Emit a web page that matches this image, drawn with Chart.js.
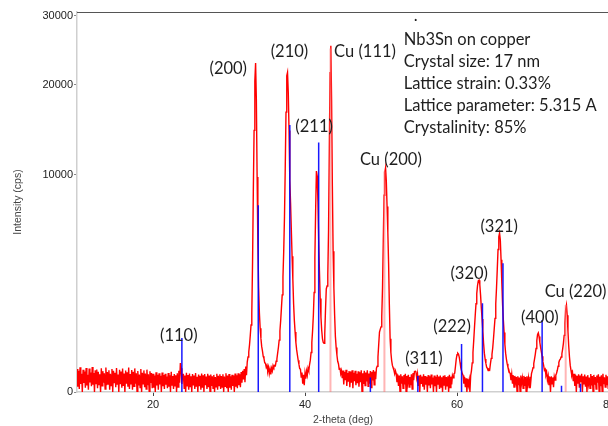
<!DOCTYPE html>
<html lang="en">
<head>
  <meta charset="UTF-8" />
  <title>Nb3Sn on copper - XRD</title>
  <script src="https://cdn.jsdelivr.net/npm/chart.js"></script>
  <style>
    html, body { margin: 0; padding: 0; background: #fff; overflow: hidden; }
    .grafico { width: 640px; height: 426px; }
    canvas { display: block; }
  </style>
</head>

<body>
  <div class="grafico">
    <canvas id="xrd" width="640" height="426"></canvas>
  </div>

  <script>
    // scan: 2-theta from 10 to 80 deg, one reading every 0.1 deg (cps)
    const thetaStart = 10;
    const thetaStep = 0.1;
    const intensity = [
      112, 6, 96, 2, 130, 14, 71, 0, 104, 17,
      88, 4, 121, 9, 63, 1, 116, 19, 81, 7,
      133, 11, 77, 0, 99, 15, 108, 3, 86, 12,
      66, 0, 119, 8, 92, 18, 74, 2, 126, 10,
      84, 13, 101, 1, 70, 9, 113, 0, 95, 16,
      79, 5, 123, 11, 65, 0, 104, 13, 89, 4,
      116, 8, 72, 0, 97, 15, 83, 6, 127, 2,
      69, 12, 102, 1, 86, 7, 118, 15, 74, 0,
      93, 9, 64, 4, 111, 0, 79, 14, 99, 5,
      72, 2, 106, 10, 67, 0, 91, 17, 77, 3,
      70, 4, 58, 0, 83, 9, 62, 1, 75, 12,
      55, 0, 80, 7, 61, 2, 71, 11, 50, 3,
      77, 6, 60, 0, 86, 10, 54, 2, 68, 8,
      59, 0, 74, 5, 96, 18, 178, 120, 14, 66,
      66, 3, 57, 0, 79, 8, 61, 1, 72, 5,
      52, 0, 69, 9, 58, 2, 76, 6, 49, 0,
      64, 7, 55, 1, 73, 4, 60, 0, 68, 10,
      50, 2, 71, 5, 57, 0, 65, 8, 53, 3,
      62, 0, 48, 6, 70, 1, 56, 9, 66, 2,
      54, 5, 67, 0, 51, 7, 74, 3, 58, 0,
      69, 4, 52, 1, 63, 8, 57, 0, 72, 6,
      60, 3, 75, 10, 66, 5, 84, 18, 96, 34,
      112, 20, 138, 60, 190, 260, 340, 470, 680, 950,
      1300, 3600, 8500, 14500, 20500, 22950, 18100, 9800, 4600, 2300,
      1320, 860, 610, 440, 360, 270, 240, 180, 175, 130,
      150, 95, 130, 70, 110, 65, 120, 95, 150, 130,
      150, 145, 200, 230, 320, 420, 570, 790, 1080, 1500,
      2000, 2800, 4200, 6500, 10600, 16600, 21200, 21650, 19000, 14500,
      9500, 7600, 5600, 3900, 2700, 1650, 1080, 760, 520, 380,
      290, 215, 165, 115, 110, 48, 80, 15, 62, 10,
      75, 38, 92, 60, 120, 95, 160, 215, 330, 520,
      800, 1250, 2100, 3800, 7000, 10350, 9900, 7700, 4900, 3100,
      1850, 1180, 800, 600, 520, 505, 720, 1450, 2250, 2380,
      2900, 5600, 12600, 21600, 25400, 18000, 9000, 4200, 2300, 1250,
      650, 420, 290, 200, 170, 110, 125, 70, 95, 40,
      98, 12, 85, 30, 104, 8, 76, 22, 92, 5,
      88, 18, 101, 3, 79, 25, 95, 10, 70, 16,
      90, 6, 83, 20, 99, 0, 74, 14, 96, 9,
      81, 24, 100, 7, 72, 15, 94, 4, 86, 28,
      102, 11, 90, 35, 120, 140, 260, 480, 760, 830,
      900, 1200, 2300, 4800, 8200, 10200, 10650, 9400, 7300, 5400,
      3500, 1600, 600, 330, 210, 150, 125, 100, 70, 95,
      72, 20, 64, 8, 58, 0, 66, 15, 52, 3,
      60, 12, 70, 0, 55, 18, 63, 5, 48, 10,
      66, 2, 75, 30, 88, 92, 84, 40, 70, 8,
      58, 0, 62, 14, 50, 6, 67, 1, 54, 11,
      47, 0, 60, 9, 52, 3, 65, 12, 44, 0,
      58, 7, 49, 0, 62, 13, 51, 2, 57, 5,
      46, 0, 55, 10, 60, 1, 48, 8, 53, 0,
      62, 4, 50, 12, 58, 42, 70, 75, 140, 230,
      295, 320, 305, 255, 185, 125, 95, 72, 58, 15,
      48, 5, 40, 0, 35, 10, 30, 0, 58, 95,
      180, 330, 560, 880, 1250, 1650, 2050, 2400, 2620, 2650,
      2450, 2000, 1500, 1130, 790, 500, 320, 230, 175, 130,
      118, 98, 110, 104, 170, 240, 300, 410, 600, 850,
      1150, 1650, 2300, 3200, 4300, 5100, 5350, 4900, 3700, 2500,
      1600, 1100, 750, 480, 320, 230, 170, 130, 110, 80,
      74, 30, 68, 15, 60, 5, 55, 20, 48, 0,
      52, 10, 44, 0, 58, 16, 40, 3, 55, 8,
      47, 0, 52, 12, 40, 4, 50, 20, 72, 95,
      125, 170, 230, 300, 400, 560, 700, 740, 650, 520,
      420, 340, 270, 200, 150, 100, 110, 60, 80, 30,
      55, 10, 48, 0, 52, 14, 45, 5, 50, 30,
      60, 75, 100, 140, 185, 215, 230, 260, 310, 390,
      500, 680, 1000, 1450, 1600, 1250, 780, 450, 260, 150,
      100, 60, 80, 25, 70, 8, 62, 0, 55, 15,
      66, 4, 58, 20, 70, 0, 52, 12, 64, 6,
      50, 0, 60, 14, 45, 3, 68, 9, 54, 0,
      62, 11, 48, 2, 57, 18, 66, 0, 50, 7,
      59, 0, 70, 13, 46, 5, 63, 10, 52, 2,
      60
    ];

    // Nb3Sn reference pattern (blue sticks)
    const refTheta = [23.8, 33.85, 38.0, 41.8, 48.6, 54.85, 60.6, 63.35, 66.05, 71.2, 73.75, 76.25];
    const refHeight = [620, 7400, 15100, 13200, 45, 55, 490, 1670, 3510, 1100, 8, 14];

    // copper reference pattern (pink sticks)
    const cuTheta = [43.35, 50.45, 74.3];
    const cuHeight = [25000, 10300, 1600];

    // peak labels
    const peakNames = ['(110)', '(200)', '(210)', '(211)', 'Cu (111)', 'Cu (200)', '(311)', '(222)', '(320)', '(321)', '(400)', 'Cu (220)'];
    const peakLabelTheta = [23.4, 29.9, 37.95, 41.2, 47.9, 51.3, 55.65, 59.35, 61.6, 65.55, 70.9, 75.6];
    const peakLabelCps = [665, 22100, 24500, 14900, 24500, 11400, 231, 896, 2950, 5770, 1160, 2120];

    const infoLines = ['Nb3Sn on copper', 'Crystal size: 17 nm', 'Lattice strain: 0.33%', 'Lattice parameter: 5.315 A', 'Crystalinity: 85%'];
    const infoTheta = 53.0;
    const infoCps = 26260;

    const yTicks = [0, 10000, 20000, 30000];
    const xTicks = [20, 40, 60, 80];

    // square-root intensity axis
    class SqrtScale extends Chart.LinearScale {
      getPixelForValue(value) {
        if (value === null || isNaN(value)) return NaN;
        const lo = Math.sqrt(Math.max(this.min, 0));
        const hi = Math.sqrt(this.max);
        return this.getPixelForDecimal((Math.sqrt(Math.max(value, 0)) - lo) / (hi - lo));
      }
      getValueForPixel(pixel) {
        const lo = Math.sqrt(Math.max(this.min, 0));
        const hi = Math.sqrt(this.max);
        const s = lo + this.getDecimalForPixel(pixel) * (hi - lo);
        return s * s;
      }
    }
    SqrtScale.id = 'sqrt';
    Chart.register(SqrtScale);

    function stickPoints(positions, heights) {
      const pts = [];
      positions.forEach((t, i) => {
        pts.push({ x: t, y: 0 }, { x: t, y: heights[i] }, { x: t, y: null });
      });
      return pts;
    }

    const scan = intensity.map((v, i) => ({ x: thetaStart + i * thetaStep, y: v }));

    const textFont = '16.5px Lato, "Open Sans", sans-serif';

    const labelPlugin = {
      id: 'peakLabels',
      afterDraw(chart) {
        const c = chart.ctx;
        const xs = chart.scales.x;
        const ys = chart.scales.y;
        const area = chart.chartArea;

        c.save();
        c.strokeStyle = '#555';
        c.lineWidth = 1;
        c.beginPath();
        c.moveTo(area.left, area.top + 0.5);
        c.lineTo(area.right, area.top + 0.5);
        c.stroke();

        c.font = textFont;
        c.fillStyle = '#1e1e1e';
        c.textAlign = 'center';
        c.textBaseline = 'middle';
        peakNames.forEach((name, i) => {
          c.fillText(name, xs.getPixelForValue(peakLabelTheta[i]), ys.getPixelForValue(peakLabelCps[i]));
        });

        c.textAlign = 'left';
        const x0 = xs.getPixelForValue(infoTheta);
        const y0 = ys.getPixelForValue(infoCps);
        c.fillText('.', x0 + 10, y0 - 24);
        infoLines.forEach((line, i) => {
          c.fillText(line, x0, y0 + i * 22);
        });
        c.restore();
      }
    };

    const ctx = document.getElementById('xrd').getContext('2d');

    new Chart(ctx, {
      type: 'line',
      data: {
        datasets: [
          {
            label: 'Nb3Sn',
            data: stickPoints(refTheta, refHeight),
            borderColor: 'rgba(0, 0, 255, 0.9)',
            borderWidth: 1.5,
            pointRadius: 0,
          },
          {
            label: 'Cu',
            data: stickPoints(cuTheta, cuHeight),
            borderColor: 'rgba(255, 120, 120, 0.55)',
            borderWidth: 2,
            pointRadius: 0,
          },
          {
            label: 'Scan',
            data: scan,
            borderColor: '#ff0000',
            borderWidth: 1.4,
            pointRadius: 0,
            tension: 0,
          },
        ],
      },
      options: {
        responsive: false,
        animation: false,
        events: [],
        layout: {
          padding: { top: 12, right: 31, left: 0, bottom: 0 },
        },
        scales: {
          x: {
            type: 'linear',
            min: 10,
            max: 80,
            afterBuildTicks: (scale) => { scale.ticks = xTicks.map(v => ({ value: v })); },
            afterFit: (scale) => { scale.height = 34; },
            border: { color: '#cfcfcf', width: 1.5 },
            grid: { drawOnChartArea: false, tickLength: 4, color: '#444' },
            ticks: {
              color: '#222',
              padding: 2,
              maxRotation: 0,
              font: { family: '"Liberation Sans", Arial, sans-serif', size: 11 },
              callback: (v) => String(v),
            },
            title: {
              display: true,
              text: '2-theta (deg)',
              color: '#444',
              padding: { top: 0, bottom: 0 },
              font: { family: '"Liberation Sans", Arial, sans-serif', size: 10.5 },
            },
          },
          y: {
            type: 'sqrt',
            min: 0,
            max: 30600,
            afterBuildTicks: (scale) => { scale.ticks = yTicks.map(v => ({ value: v })); },
            afterFit: (scale) => { scale.width = 77; },
            border: { color: '#cfcfcf', width: 1.5 },
            grid: { drawOnChartArea: false, tickLength: 3, color: '#888' },
            ticks: {
              color: '#222',
              padding: 1,
              font: { family: '"Liberation Sans", Arial, sans-serif', size: 11 },
              callback: (v) => String(v),
            },
            title: {
              display: true,
              text: 'Intensity (cps)',
              color: '#444',
              padding: { top: 12, bottom: 0 },
              font: { family: '"Liberation Sans", Arial, sans-serif', size: 10.5 },
            },
          },
        },
        plugins: {
          legend: { display: false },
          tooltip: { enabled: false },
        },
      },
      plugins: [labelPlugin],
    });
  </script>
</body>
</html>
